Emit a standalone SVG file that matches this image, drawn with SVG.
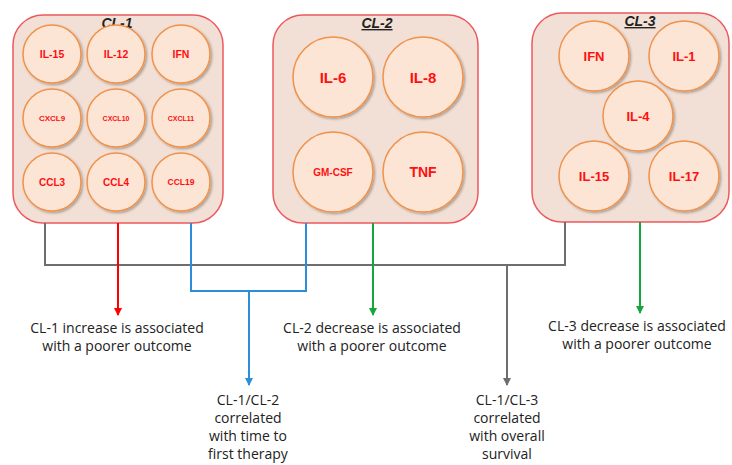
<svg xmlns="http://www.w3.org/2000/svg" width="732" height="465" viewBox="0 0 732 465">
<defs>
<filter id="sh" x="-20%" y="-20%" width="150%" height="150%"><feDropShadow dx="1.5" dy="1.5" stdDeviation="1.2" flood-color="#000" flood-opacity="0.3"/></filter>
<marker id="aR" markerWidth="8" markerHeight="8" refX="7" refY="4" orient="auto" markerUnits="userSpaceOnUse"><path d="M0,0 L8,4 L0,8 z" fill="#ff0000"/></marker>
<marker id="aB" markerWidth="8" markerHeight="8" refX="7" refY="4" orient="auto" markerUnits="userSpaceOnUse"><path d="M0,0 L8,4 L0,8 z" fill="#2a8fd8"/></marker>
<marker id="aG" markerWidth="8" markerHeight="8" refX="7" refY="4" orient="auto" markerUnits="userSpaceOnUse"><path d="M0,0 L8,4 L0,8 z" fill="#14a83c"/></marker>
<marker id="aK" markerWidth="8" markerHeight="8" refX="7" refY="4" orient="auto" markerUnits="userSpaceOnUse"><path d="M0,0 L8,4 L0,8 z" fill="#6e6e6e"/></marker>
</defs>
<style>
.box{fill:#f2e0d6;stroke:#ec5a5f;stroke-width:1.5}
.c{fill:#fde5d6;stroke:#f0924a;stroke-width:1.5;filter:url(#sh)}
.t{font-family:"Liberation Sans",Arial,sans-serif;font-weight:bold;fill:#ff1010;text-anchor:middle}
.ttl{font-family:"Liberation Sans",Arial,sans-serif;font-weight:bold;font-style:italic;font-size:14px;fill:#222;text-anchor:middle;text-decoration:underline}
.lbl{font-family:"Open Sans","Liberation Sans",sans-serif;font-size:14px;fill:#222;text-anchor:middle}
.ln{fill:none;stroke-width:2}
</style>
<g id="cl1">
<rect class="box" x="13" y="15" width="210" height="208" rx="30"/>
<text class="ttl" x="117" y="28">CL-1</text>
<circle class="c" cx="52" cy="54" r="29"/><text class="t" x="52" y="58" font-size="10.5">IL-15</text>
<circle class="c" cx="116" cy="54" r="29"/><text class="t" x="116" y="58" font-size="10.5">IL-12</text>
<circle class="c" cx="181" cy="54" r="29"/><text class="t" x="181" y="58" font-size="10.5">IFN</text>
<circle class="c" cx="52" cy="118" r="29"/><text class="t" x="52" y="121" font-size="8">CXCL9</text>
<circle class="c" cx="116" cy="118" r="29"/><text class="t" x="116" y="121" font-size="7">CXCL10</text>
<circle class="c" cx="181" cy="118" r="29"/><text class="t" x="181" y="121" font-size="7">CXCL11</text>
<circle class="c" cx="52" cy="182" r="29"/><text class="t" x="52" y="186" font-size="10">CCL3</text>
<circle class="c" cx="116" cy="182" r="29"/><text class="t" x="116" y="186" font-size="10">CCL4</text>
<circle class="c" cx="181" cy="182" r="29"/><text class="t" x="181" y="185" font-size="8.5">CCL19</text>
</g>
<g id="cl2">
<rect class="box" x="273" y="15" width="205" height="208" rx="30"/>
<text class="ttl" x="377" y="28">CL-2</text>
<circle class="c" cx="333" cy="77" r="40"/><text class="t" x="333" y="83" font-size="15">IL-6</text>
<circle class="c" cx="423" cy="77" r="40"/><text class="t" x="423" y="83" font-size="15">IL-8</text>
<circle class="c" cx="333" cy="172" r="40"/><text class="t" x="333" y="176" font-size="10">GM-CSF</text>
<circle class="c" cx="423" cy="172" r="40"/><text class="t" x="423" y="177" font-size="14">TNF</text>
</g>
<g id="cl3">
<rect class="box" x="532" y="13" width="197" height="209" rx="30"/>
<text class="ttl" x="640" y="26">CL-3</text>
<circle class="c" cx="594" cy="56" r="35"/><text class="t" x="594" y="61" font-size="13">IFN</text>
<circle class="c" cx="684" cy="56" r="35"/><text class="t" x="684" y="61" font-size="13">IL-1</text>
<circle class="c" cx="638" cy="116" r="35"/><text class="t" x="638" y="121" font-size="13">IL-4</text>
<circle class="c" cx="594" cy="176" r="35"/><text class="t" x="594" y="181" font-size="13">IL-15</text>
<circle class="c" cx="684" cy="176" r="35"/><text class="t" x="684" y="181" font-size="13">IL-17</text>
</g>
<g id="connectors">
<path class="ln" stroke="#6e6e6e" d="M45,223 V265 H565 V222"/>
<path class="ln" stroke="#6e6e6e" d="M507,265 V385" marker-end="url(#aK)"/>
<path class="ln" stroke="#ff0000" d="M118,223 V315" marker-end="url(#aR)"/>
<path class="ln" stroke="#2a8fd8" d="M191,223 V291 H306 V223"/>
<path class="ln" stroke="#2a8fd8" d="M249,291 V385" marker-end="url(#aB)"/>
<path class="ln" stroke="#14a83c" d="M373,223 V315" marker-end="url(#aG)"/>
<path class="ln" stroke="#14a83c" d="M640,222 V313" marker-end="url(#aG)"/>
</g>
<g id="labels">
<text class="lbl" x="117" y="333">CL-1 increase is associated</text>
<text class="lbl" x="117" y="351">with a poorer outcome</text>
<text class="lbl" x="372" y="333">CL-2 decrease is associated</text>
<text class="lbl" x="372" y="351">with a poorer outcome</text>
<text class="lbl" x="637" y="331">CL-3 decrease is associated</text>
<text class="lbl" x="637" y="349">with a poorer outcome</text>
<text class="lbl" x="248" y="405">CL-1/CL-2</text>
<text class="lbl" x="248" y="423">correlated</text>
<text class="lbl" x="248" y="441">with time to</text>
<text class="lbl" x="248" y="459">first therapy</text>
<text class="lbl" x="507" y="405">CL-1/CL-3</text>
<text class="lbl" x="507" y="423">correlated</text>
<text class="lbl" x="507" y="441">with overall</text>
<text class="lbl" x="507" y="459">survival</text>
</g>
</svg>
